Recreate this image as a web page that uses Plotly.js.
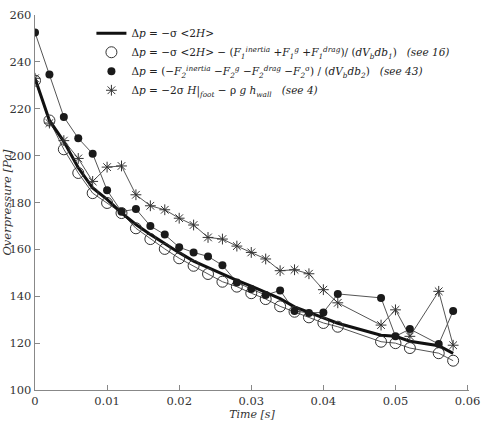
<!DOCTYPE html>
<html>
<head>
<meta charset="utf-8">
<script src="https://cdn.plot.ly/plotly-3.0.1.min.js"></script>
<style>
html,body{margin:0;padding:0;background:#fff;}
#chart{width:481px;height:422px;}
</style>
</head>
<body>
<div id="chart"></div>
<script>
// Time samples [s] (some frames missing)
var time = [0, 0.002, 0.004, 0.006, 0.008, 0.010, 0.012, 0.014, 0.016, 0.018, 0.020,
            0.022, 0.024, 0.026, 0.028, 0.030, 0.032, 0.034, 0.036, 0.038, 0.040,
            0.042, 0.048, 0.050, 0.052, 0.056, 0.058];
// Δp = −σ <2H>
var dpMean = [233, 215, 206, 194.8, 186.2, 181.3, 175.6, 170.6, 166.4, 162.4, 158.6,
              155, 152.2, 149.4, 146.8, 144.3, 141.5, 139, 135.5, 133.1, 130.9,
              128.5, 123.4, 122.9, 120.8, 118.9, 115.6];
// see 16
var dpEq16 = [232, 215, 202.7, 192.6, 184, 179.8, 175.5, 169, 164.4, 160.2, 156.2,
              153, 149.5, 146.2, 144.1, 141.3, 138.8, 135.7, 133.4, 131, 128.6,
              127, 120.6, 120, 117.9, 115.7, 112.5];
// see 43
var dpEq43 = [252.5, 234.6, 216.5, 207.4, 200.8, 185.2, 176.1, 177.2, 170, 166.3, 160.9,
              158.7, 157, 153.2, 145.9, 143.1, 140.5, 142.5, 133.7, 132.9, 133.1,
              141, 139.3, 122.9, 126, 119.6, 133.7];
// see 4
var dpEq4 = [233, 213.9, 206.4, 198.8, 189, 195.1, 195.6, 183.3, 178.6, 176.9, 173.3,
             170.4, 165.1, 164.4, 161.4, 158.7, 155.9, 150.9, 151.3, 149.6, 142.8,
             137.2, 127.7, 134.2, 122.9, 142.1, 119.1];
// tick labels
var xTicks = [0, 0.01, 0.02, 0.03, 0.04, 0.05, 0.06];
var xTickText = ['0', '0.01', '0.02', '0.03', '0.04', '0.05', '0.06'];
var yTicks = [100, 120, 140, 160, 180, 200, 220, 240, 260];

var names = [
  'Δ<i>p</i> = −σ &lt;2<i>H</i>&gt;',
  'Δ<i>p</i> = −σ &lt;2<i>H</i>&gt; − (<i>F</i><sub><i>1</i></sub><sup><i>inertia</i></sup> +<i>F</i><sub><i>1</i></sub><sup><i>g</i></sup> +<i>F</i><sub><i>1</i></sub><sup><i>drag</i></sup>)/ (<i>dV</i><sub><i>b</i></sub><i>db</i><sub><i>1</i></sub>)   <i>(see 16)</i>',
  'Δ<i>p</i> = (−<i>F</i><sub><i>2</i></sub><sup><i>inertia</i></sup> −<i>F</i><sub><i>2</i></sub><sup><i>g</i></sup> −<i>F</i><sub><i>2</i></sub><sup><i>drag</i></sup> −<i>F</i><sub><i>2</i></sub><sup>σ</sup>) / (<i>dV</i><sub><i>b</i></sub><i>db</i><sub><i>2</i></sub>)   <i>(see 43)</i>',
  'Δ<i>p</i> = −2σ <i>H</i>|<sub><i>foot</i></sub> − ρ <i>g h</i><sub><i>wall</i></sub>   <i>(see 4)</i>'
];

var thin = {color: '#555', width: 1};
var traces = [
  {x: time, y: dpEq16, mode: 'lines', line: thin, showlegend: false, hoverinfo: 'skip'},
  {x: time, y: dpEq43, mode: 'lines', line: thin, showlegend: false, hoverinfo: 'skip'},
  {x: time, y: dpEq4, mode: 'lines', line: thin, showlegend: false, hoverinfo: 'skip'},
  {x: time, y: dpMean, mode: 'lines', name: names[0], line: {color: '#111', width: 3}},
  {x: time, y: dpEq16, mode: 'markers', name: names[1],
   marker: {symbol: 'circle-open', size: 11, color: '#333', line: {width: 1, color: '#333'}}},
  {x: time, y: dpEq43, mode: 'markers', name: names[2],
   marker: {symbol: 'circle', size: 8, color: '#1a1a1a'}},
  {x: time, y: dpEq4, mode: 'markers', name: names[3],
   marker: {symbol: 'asterisk-open', size: 9, color: '#333', line: {width: 1, color: '#333'}}}
];

var FAM = 'DejaVu Serif';
var fnt = {family: FAM, size: 11.5, color: '#333'};
var layout = {
  width: 481, height: 422,
  margin: {l: 35, r: 12, t: 15, b: 32, autoexpand: false},
  paper_bgcolor: '#fff', plot_bgcolor: '#fff',
  font: fnt,
  showlegend: true,
  legend: {x: 0.13, y: 0.99, xref: 'paper', yref: 'paper', xanchor: 'left', yanchor: 'top',
           bgcolor: 'rgba(0,0,0,0)',
           font: {family: FAM, size: 10.5, color: '#222'},
           tracegroupgap: 0, itemwidth: 30},
  xaxis: {range: [0, 0.0602], tickmode: 'array', tickvals: xTicks, ticktext: xTickText,
          tickangle: 0, automargin: false,
          showgrid: false, zeroline: false,
          showline: true, linecolor: '#888', linewidth: 1.3, ticks: 'inside', ticklen: 5,
          tickcolor: '#888', tickfont: fnt, ticklabeloverflow: 'allow',
          title: {text: '<i>Time [s]</i>', font: {family: FAM, size: 11, color: '#333'}, standoff: 0}},
  yaxis: {range: [100, 260], tickmode: 'array', tickvals: yTicks, automargin: false,
          showgrid: false, zeroline: false,
          showline: true, linecolor: '#888', linewidth: 1.3, ticks: 'inside', ticklen: 5,
          tickcolor: '#888', tickfont: fnt,
          title: {text: '<i>Overpressure [Pa]</i>', font: {family: FAM, size: 11.5, color: '#333'}, standoff: 2}}
};
Plotly.newPlot('chart', traces, layout, {staticPlot: true, displayModeBar: false});
</script>
</body>
</html>
